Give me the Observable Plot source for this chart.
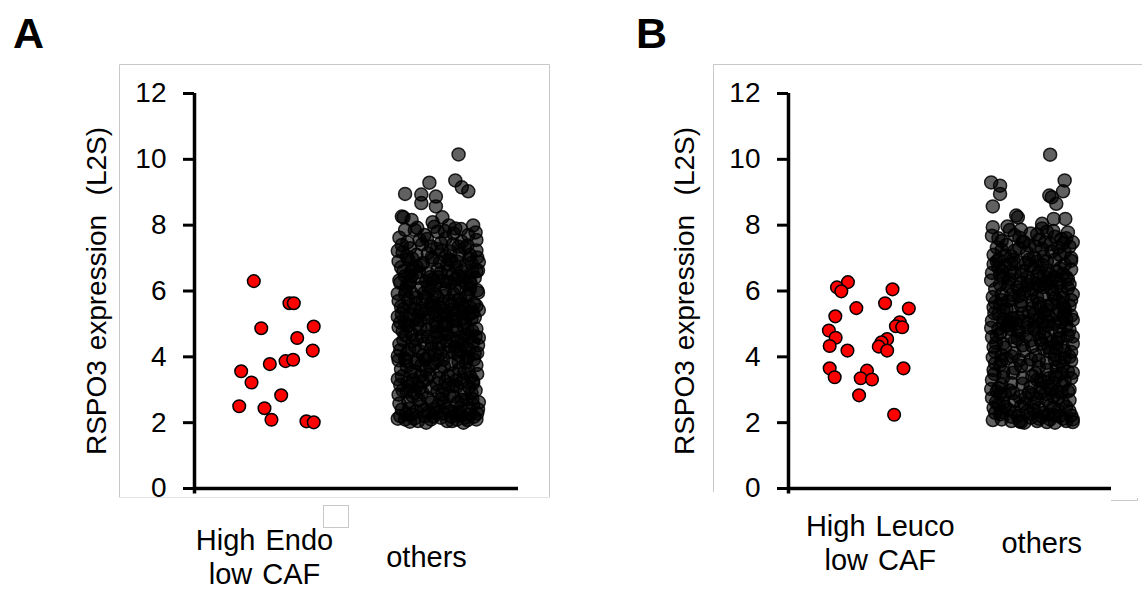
<!DOCTYPE html>
<html>
<head>
<meta charset="utf-8">
<script src="https://cdn.jsdelivr.net/npm/d3@7"></script>
<script src="https://cdn.jsdelivr.net/npm/@observablehq/plot@0.6"></script>
<style>
  html, body { margin: 0; padding: 0; background: #fff; }
  #wrap { position: relative; width: 1142px; height: 589px; overflow: hidden; font-family: "Liberation Sans", Arial, sans-serif; }
  #wrap > div.panel { position: absolute; top: 0; }
  #overlay { position: absolute; left: 0; top: 0; pointer-events: none; }
</style>
</head>
<body>
<div id="wrap">
  <div class="panel" id="pA" style="left:0px"></div>
  <div class="panel" id="pB" style="left:571px"></div>
  <svg id="overlay" width="1142" height="589" xmlns="http://www.w3.org/2000/svg">
    <g fill="none" stroke="#c8c8c8" stroke-width="1">
      <line x1="119.5" y1="64.5" x2="549.5" y2="64.5"/>
      <line x1="119.5" y1="64.5" x2="119.5" y2="497.5"/>
      <line x1="549.5" y1="64.5" x2="549.5" y2="497.5"/>
      <line x1="119.5" y1="497.5" x2="549.5" y2="497.5" stroke="#e4e4e4"/>
      <rect x="323.5" y="505.5" width="25" height="22" stroke="#c8c8c8"/>
      <line x1="713.5" y1="64.5" x2="1142" y2="64.5"/>
      <line x1="713.5" y1="64.5" x2="713.5" y2="492"/>
      <line x1="1111" y1="500.5" x2="1137.5" y2="500.5"/>
      <line x1="1137.5" y1="498" x2="1137.5" y2="500.5"/>
    </g>
    <text x="13" y="48" font-family="Liberation Sans, Arial, sans-serif" font-weight="bold" font-size="43" fill="#000">A</text>
    <text x="636" y="48" font-family="Liberation Sans, Arial, sans-serif" font-weight="bold" font-size="43" fill="#000">B</text>
  </svg>
</div>
<script>
// ---------- data ----------
const groupsA = ["High Endo\nlow CAF", "others"];
const groupsB = ["High Leuco\nlow CAF", "others"];
const yTicks = [0, 2, 4, 6, 8, 10, 12];
const yTitle = "RSPO3 expression\u00a0 (L2S)";

// [jitter offset within category, RSPO3 value]
const redA = [
  [-0.134, 6.30], [0.086, 5.63], [0.113, 5.63], [-0.088, 4.87], [0.236, 4.92],
  [0.134, 4.57], [0.230, 4.19], [0.062, 3.87], [0.109, 3.91], [-0.035, 3.78],
  [-0.212, 3.56], [-0.148, 3.22], [0.035, 2.83], [-0.224, 2.50], [-0.068, 2.44],
  [-0.025, 2.09], [0.191, 2.04], [0.236, 2.01]
];

const othersA = [
  [0.13,10.15],[0.11,9.36],[0.15,9.15],[0.19,9.03],[-0.05,9.29],[-0.20,8.95],[-0.10,8.93],[-0.10,8.67],
  [-0.01,8.87],[-0.01,8.57],[-0.22,8.26],[-0.21,8.24],[-0.16,8.16],[0.03,8.24],[0.07,7.99],[-0.03,8.09],
  [0.22,7.99],[-0.20,7.86],[0.24,7.55],[0.24,7.23],[0.25,6.62],
  [-0.14,7.85],[-0.08,7.7],[0.0,7.8],[0.05,7.6],[0.1,7.75],[0.15,7.5],[0.19,7.7],[-0.22,7.4],[-0.17,7.3],
  [-0.11,7.55],[-0.04,7.35],[0.02,7.45],[0.08,7.2],[0.13,7.35],[0.2,7.1],[-0.19,7.05],[-0.06,7.15],
  [0.05,7.05],[0.17,7.3],[-0.13,7.1],[0.11,7.9],[-0.02,7.95],
  [-0.24,6.9],[-0.21,6.6],[-0.18,6.95],[-0.15,6.7],[-0.12,6.4],[-0.09,6.85],[-0.06,6.55],[-0.03,6.95],
  [0.0,6.65],[0.03,6.3],[0.06,6.8],[0.09,6.5],[0.12,6.9],[0.15,6.6],[0.18,6.2],[0.21,6.85],[0.23,6.4],
  [-0.23,6.25],[-0.19,6.15],[-0.16,6.45],[-0.1,6.1],[-0.07,6.3],[-0.01,6.2],[0.02,6.55],[0.05,6.05],
  [0.08,6.25],[0.11,6.35],[0.14,6.1],[0.17,6.75],[0.2,6.05],[0.24,6.6],[-0.13,6.75],[-0.04,6.05],
  [0.07,6.95],[-0.2,6.45],
  [-0.24,5.7],[-0.22,5.3],[-0.2,5.9],[-0.17,5.5],[-0.15,5.1],[-0.13,5.8],[-0.1,5.4],[-0.08,5.95],
  [-0.06,5.2],[-0.03,5.65],[-0.01,5.05],[0.01,5.5],[0.04,5.85],[0.06,5.25],[0.09,5.6],[0.11,5.1],
  [0.14,5.75],[0.16,5.35],[0.19,5.9],[0.21,5.15],[0.24,5.55],[0.25,5.95],[-0.23,5.05],[-0.18,5.75],
  [-0.12,5.25],[-0.09,5.7],[-0.05,5.45],[0.0,5.8],[0.03,5.3],[0.07,5.7],[0.1,5.9],[0.13,5.4],
  [0.17,5.05],[0.2,5.5],[0.23,5.2],[-0.16,5.95],[-0.02,5.35],[0.05,5.0],[0.15,5.6],[-0.21,5.45],
  [-0.24,4.9],[-0.21,4.5],[-0.19,4.1],[-0.16,4.7],[-0.14,4.3],[-0.11,4.85],[-0.09,4.05],[-0.06,4.6],
  [-0.04,4.25],[-0.01,4.75],[0.01,4.4],[0.04,4.95],[0.07,4.15],[0.09,4.55],[0.12,4.8],[0.14,4.2],
  [0.17,4.65],[0.19,4.0],[0.22,4.45],[0.24,4.85],[0.25,4.35],[-0.23,4.2],[-0.18,4.95],[-0.13,4.55],
  [-0.08,4.4],[-0.03,4.95],[0.02,4.1],[0.06,4.7],[0.11,4.3],[0.16,4.95],[0.2,4.6],[0.23,4.1],
  [-0.2,4.65],[0.0,4.6],[0.13,4.05],
  [-0.24,3.9],[-0.22,3.4],[-0.19,3.7],[-0.17,3.1],[-0.14,3.55],[-0.12,3.9],[-0.09,3.25],[-0.07,3.6],
  [-0.04,3.05],[-0.02,3.8],[0.01,3.35],[0.04,3.7],[0.07,3.15],[0.1,3.5],[0.13,3.85],[0.16,3.3],
  [0.19,3.6],[0.22,3.2],[0.24,3.75],[-0.23,3.15],[-0.2,3.95],[-0.15,3.3],[-0.1,3.75],[-0.05,3.45],
  [0.0,3.9],[0.05,3.25],[0.12,3.1],[0.18,3.95],[0.22,3.26],[-0.11,3.05],
  [-0.24,2.85],[-0.22,2.4],[-0.2,2.1],[-0.18,2.65],[-0.16,2.25],[-0.14,2.9],[-0.12,2.05],[-0.1,2.5],
  [-0.08,2.2],[-0.06,2.75],[-0.04,2.1],[-0.02,2.4],[0.0,2.95],[0.02,2.15],[0.04,2.6],[0.06,2.05],
  [0.08,2.35],[0.1,2.8],[0.12,2.1],[0.14,2.45],[0.16,2.0],[0.18,2.7],[0.2,2.25],[0.22,2.55],
  [0.24,2.1],[0.25,2.4],[-0.23,2.2],[-0.19,2.95],[-0.13,2.35],[-0.07,2.0],[0.03,2.85],[0.09,2.05],
  [0.15,2.7],[0.21,2.9],[-0.01,2.3],[0.17,2.15],[-0.17,2.03],
  [-0.235,7.62],[-0.185,7.48],[-0.125,7.92],[-0.065,7.58],[-0.005,7.28],[0.045,7.82],[0.095,7.42],[0.145,7.88],[0.185,7.38],[0.235,7.78],
  [-0.215,7.18],[-0.155,6.98],[-0.095,7.42],[-0.035,7.02],[0.025,7.22],[0.085,6.92],[0.135,7.12],[0.195,6.98],[0.245,7.02],[-0.245,7.22],
  [-0.225,6.72],[-0.165,6.58],[-0.105,6.78],[-0.045,6.42],[0.015,6.88],[0.065,6.62],[0.115,6.72],[0.165,6.42],[0.215,6.58],[0.255,6.88],
  [-0.235,6.32],[-0.175,6.22],[-0.115,6.58],[-0.055,6.12],[0.005,6.42],[0.055,6.28],[0.105,6.08],[0.155,6.32],[0.205,6.22],[0.245,6.02],
  [-0.245,5.92],[-0.195,6.02],[-0.135,5.62],[-0.075,5.82],[-0.015,5.92],[0.035,5.62],[0.085,5.42],[0.125,5.72],[0.175,5.82],[0.225,5.62],
  [-0.225,5.52],[-0.165,5.28],[-0.105,5.12],[-0.045,5.58],[0.015,5.22],[0.065,5.02],[0.105,5.32],[0.155,5.18],[0.195,5.28],[0.255,5.42],
  [-0.245,5.22],[-0.185,4.92],[-0.125,4.98],[-0.065,4.82],[-0.005,4.92],[0.045,4.68],[0.095,4.92],[0.145,4.58],[0.185,4.82],[0.235,4.62],
  [-0.215,4.78],[-0.155,4.48],[-0.095,4.62],[-0.035,4.42],[0.025,4.72],[0.075,4.32],[0.125,4.48],[0.175,4.28],[0.215,4.78],[0.255,4.58],
  [-0.235,4.38],[-0.175,4.22],[-0.115,4.18],[-0.055,4.02],[0.005,4.28],[0.055,4.48],[0.105,4.12],[0.155,4.38],[0.195,4.22],[0.245,4.12],
  [-0.245,4.02],[-0.195,3.88],[-0.135,3.82],[-0.075,3.92],[-0.015,4.08],[0.035,3.92],[0.085,3.78],[0.135,3.62],[0.175,3.82],[0.225,3.92],
  [-0.225,3.62],[-0.165,3.52],[-0.105,3.42],[-0.045,3.72],[0.015,3.58],[0.065,3.42],[0.115,3.28],[0.165,3.52],[0.205,3.38],[0.245,3.48],
  [-0.245,3.32],[-0.185,3.22],[-0.125,3.12],[-0.065,3.32],[-0.005,3.18],[0.045,3.02],[0.095,3.12],[0.145,3.22],[0.195,3.08],[0.235,2.98],
  [-0.215,2.98],[-0.155,2.82],[-0.095,2.92],[-0.035,2.62],[0.025,2.72],[0.075,2.82],[0.125,2.62],[0.165,2.88],[0.215,2.72],[0.255,2.62],
  [-0.235,2.58],[-0.175,2.42],[-0.115,2.68],[-0.055,2.32],[0.005,2.52],[0.055,2.42],[0.105,2.32],[0.145,2.22],[0.195,2.42],[0.245,2.28],
  [-0.245,2.12],[-0.195,2.25],[-0.145,2.12],[-0.085,2.38],[-0.025,2.18],[0.035,2.28],[0.085,2.18],[0.135,2.32],[0.185,2.08],[0.225,2.18],
  [-0.2,5.05],[-0.14,5.45],[-0.08,5.3],[-0.02,5.55],[0.04,5.4],[0.1,5.15],[0.16,5.5],[0.22,5.35],[-0.17,6.3],[-0.03,6.35],[0.13,6.45],[0.2,6.3]
];

const redB = [
  [-0.132, 6.27], [-0.200, 6.11], [-0.173, 5.99], [0.144, 6.05], [0.098, 5.63],
  [-0.080, 5.48], [0.245, 5.47], [-0.210, 5.23], [0.189, 5.05], [0.165, 4.93],
  [0.204, 4.90], [-0.250, 4.80], [-0.208, 4.58], [0.111, 4.54], [0.076, 4.44],
  [0.059, 4.31], [0.111, 4.19], [-0.245, 4.33], [-0.135, 4.19], [-0.245, 3.65],
  [0.212, 3.65], [-0.214, 3.38], [-0.014, 3.58], [-0.053, 3.35], [0.017, 3.31],
  [-0.063, 2.83], [0.154, 2.24]
];

const othersB = [
  [0.12,10.14],[-0.245,9.30],[-0.19,9.20],[-0.19,8.95],[0.21,9.36],[0.20,9.03],[0.115,8.9],[0.158,8.65],
  [0.13,8.85],[-0.235,8.57],[-0.235,7.94],[-0.144,7.96],[-0.09,8.29],[-0.08,8.24],[-0.061,7.86],
  [0.142,8.19],[0.214,8.19],[0.07,8.04],
  [-0.2,7.6],[-0.15,7.4],[-0.1,7.7],[-0.05,7.5],[0.0,7.75],[0.05,7.55],[0.1,7.8],[0.15,7.65],[0.2,7.45],
  [0.24,7.35],[-0.23,7.1],[-0.18,7.25],[-0.12,7.05],[-0.07,7.3],[-0.02,7.15],[0.03,7.35],[0.08,7.05],
  [0.13,7.2],[0.18,7.1],[0.22,7.6],[0.25,7.0],[0.07,7.9],
  [-0.24,6.55],[-0.21,6.9],[-0.19,6.2],[-0.16,6.75],[-0.13,6.35],[-0.11,6.95],[-0.08,6.1],[-0.05,6.6],
  [-0.03,6.85],[0.0,6.3],[0.02,6.7],[0.05,6.15],[0.08,6.45],[0.1,6.9],[0.13,6.05],[0.16,6.6],[0.18,6.25],
  [0.21,6.8],[0.23,6.35],[0.25,6.65],[-0.22,6.05],[-0.17,6.4],[-0.1,6.55],[-0.06,6.25],[-0.01,6.95],
  [0.04,6.45],[0.07,6.8],[0.12,6.5],[0.15,6.95],[0.19,6.0],[0.24,6.2],[-0.14,6.15],[0.01,6.05],[0.09,6.2],
  [-0.2,6.7],
  [-0.24,5.1],[-0.22,5.65],[-0.2,5.3],[-0.18,5.9],[-0.15,5.45],[-0.13,5.05],[-0.11,5.75],[-0.08,5.2],
  [-0.06,5.55],[-0.04,5.95],[-0.01,5.35],[0.01,5.7],[0.03,5.1],[0.06,5.5],[0.08,5.85],[0.11,5.25],
  [0.13,5.6],[0.15,5.0],[0.18,5.4],[0.2,5.8],[0.22,5.15],[0.24,5.55],[0.26,5.9],[-0.23,5.5],[-0.17,5.15],
  [-0.12,5.4],[-0.07,5.85],[-0.02,5.05],[0.02,5.3],[0.07,5.05],[0.1,5.55],[0.14,5.9],[0.17,5.7],
  [0.21,5.35],[0.25,5.25],[-0.19,5.6],[-0.09,5.0],[0.04,5.8],[0.19,5.05],[-0.14,5.7],
  [-0.24,4.6],[-0.22,4.15],[-0.2,4.85],[-0.17,4.4],[-0.15,4.95],[-0.12,4.6],[-0.1,4.1],[-0.07,4.75],
  [-0.05,4.35],[-0.02,4.9],[0.0,4.5],[0.03,4.05],[0.05,4.7],[0.08,4.25],[0.1,4.95],[0.13,4.45],
  [0.15,4.05],[0.18,4.8],[0.2,4.3],[0.23,4.65],[0.25,4.15],[-0.23,4.3],[-0.18,4.05],[-0.13,4.85],
  [0.02,4.85],[0.07,4.4],[0.12,4.15],[0.17,4.55],[0.22,4.95],[-0.21,4.65],[0.26,4.4],[-0.08,4.55],
  [0.09,4.6],[0.16,4.25],[0.24,4.0],
  [-0.24,3.3],[-0.22,3.8],[-0.2,3.05],[-0.17,3.55],[-0.15,3.95],[-0.12,3.2],[-0.1,3.65],[-0.07,3.9],
  [-0.05,3.35],[-0.02,3.75],[0.0,3.1],[0.03,3.5],[0.05,3.9],[0.08,3.25],[0.1,3.6],[0.13,3.0],
  [0.15,3.45],[0.18,3.85],[0.2,3.15],[0.23,3.55],[0.25,3.35],[-0.23,3.6],[-0.18,3.15],[0.06,3.05],
  [0.11,3.35],[0.16,3.7],[0.21,3.95],[0.24,3.0],[-0.19,3.75],[0.04,3.3],[0.14,3.2],[0.19,3.5],
  [-0.24,2.75],[-0.22,2.3],[-0.2,2.55],[-0.18,2.1],[-0.16,2.85],[-0.14,2.4],[-0.12,2.05],[-0.1,2.65],
  [-0.08,2.2],[-0.06,2.5],[-0.04,2.0],[-0.02,2.35],[0.0,2.15],[0.02,2.6],[0.04,2.05],[0.06,2.9],
  [0.08,2.3],[0.1,2.7],[0.12,2.1],[0.14,2.45],[0.16,2.95],[0.18,2.2],[0.2,2.6],[0.22,2.05],
  [0.24,2.35],[0.26,2.1],[-0.23,2.45],[-0.21,2.95],[-0.17,2.6],[-0.11,2.9],[-0.03,2.75],[0.05,2.45],
  [0.11,2.25],[0.17,2.75],[0.23,2.95],[-0.07,2.05],[0.15,2.0],[-0.19,2.25],[0.01,2.85],
  [-0.24,7.68],[-0.18,7.52],[-0.13,7.85],[-0.07,7.62],[-0.01,7.38],[0.04,7.72],[0.09,7.48],[0.14,7.82],[0.19,7.58],[0.23,7.78],
  [-0.21,7.32],[-0.16,7.08],[-0.1,7.22],[-0.04,7.48],[0.02,7.02],[0.07,7.28],[0.12,7.42],[0.17,7.32],[0.21,7.18],[0.26,7.48],
  [-0.23,6.82],[-0.18,6.62],[-0.12,6.82],[-0.06,6.48],[0.0,6.78],[0.05,6.58],[0.1,6.62],[0.15,6.42],[0.2,6.52],[0.25,6.92],
  [-0.245,6.32],[-0.19,6.48],[-0.13,6.58],[-0.07,6.02],[-0.02,6.42],[0.03,6.22],[0.08,6.12],[0.13,6.32],[0.18,6.68],[0.23,6.08],
  [-0.235,5.82],[-0.18,5.72],[-0.12,5.88],[-0.06,5.68],[0.0,5.92],[0.05,5.62],[0.1,5.42],[0.15,5.78],[0.2,5.58],[0.25,5.72],
  [-0.225,5.32],[-0.17,5.42],[-0.11,5.18],[-0.05,5.32],[0.01,5.48],[0.06,5.18],[0.11,5.08],[0.16,5.28],[0.21,5.48],[0.26,5.12],
  [-0.245,4.88],[-0.19,4.72],[-0.14,4.98],[-0.08,4.78],[-0.03,4.62],[0.03,4.92],[0.08,4.72],[0.13,4.88],[0.18,4.58],[0.24,4.82],
  [-0.215,4.42],[-0.16,4.28],[-0.1,4.48],[-0.04,4.18],[0.01,4.32],[0.06,4.52],[0.11,4.28],[0.16,4.42],[0.21,4.18],[0.26,4.62],
  [-0.235,3.98],[-0.18,3.88],[-0.12,4.02],[-0.06,3.72],[0.0,3.92],[0.05,3.68],[0.1,3.82],[0.15,3.92],[0.2,3.72],[0.25,3.88],
  [-0.225,3.48],[-0.17,3.38],[-0.11,3.52],[-0.05,3.18],[0.01,3.42],[0.06,3.28],[0.11,3.12],[0.16,3.38],[0.21,3.28],[0.26,3.52],
  [-0.245,3.02],[-0.19,2.88],[-0.13,2.98],[-0.07,2.78],[-0.01,2.92],[0.04,2.72],[0.09,2.88],[0.14,2.78],[0.19,2.92],[0.24,2.68],
  [-0.215,2.62],[-0.16,2.48],[-0.1,2.32],[-0.04,2.58],[0.02,2.38],[0.07,2.18],[0.12,2.52],[0.17,2.38],[0.22,2.48],[0.25,2.22],
  [-0.235,2.08],[-0.18,2.32],[-0.12,2.18],[-0.06,2.02],[0.0,2.28],[0.05,2.12],[0.1,2.02],[0.15,2.22],[0.2,2.12],[0.26,2.02],
  [-0.2,6.95],[-0.14,6.28],[-0.08,6.88],[-0.02,6.18],[0.04,6.9],[0.1,6.28],[0.16,6.12],[0.22,6.42],[-0.17,5.02],[-0.05,5.08],[0.08,5.32],[0.2,5.22]
];

// ---------- drawing ----------
const FONT = "'Liberation Sans', Arial, sans-serif";

function panel({groups, red, others, marginLeft, marginRight, labelDx, labelDy, titleDx}) {
  return Plot.plot({
    width: 571,
    height: 589,
    marginLeft,
    marginRight,
    marginTop: 93,
    marginBottom: 101,
    x: {domain: [-0.5, 1.5], axis: null},
    y: {domain: [0, 12]},
    style: {fontFamily: FONT, fontSize: "28px", wordSpacing: "2px", background: "transparent", overflow: "visible", color: "#000"},
    marks: [
      Plot.axisY({ticks: yTicks, tickSize: 11, tickPadding: 17, fontSize: 28, strokeWidth: 3, label: null, fill: "#000"}),
      Plot.ruleX([-0.5], {y1: () => -0.17, y2: () => 12, strokeWidth: 3.5, stroke: "#000"}),
      Plot.ruleY([0], {x1: () => -0.5, x2: () => 1.5, strokeWidth: 3.5, stroke: "#000"}),
      Plot.dot(others, {x: d => 1 + d[0], y: d => d[1], r: 6.5, fill: "#000", fillOpacity: 0.62,
        stroke: "#000", strokeOpacity: 0.85, strokeWidth: 1.5}),
      Plot.dot(red, {x: d => d[0], y: d => d[1], r: 6.3, fill: "#ff0000", stroke: "#000", strokeWidth: 1.5}),
      Plot.text(groups, {x: (d, i) => i, text: d => d, frameAnchor: "bottom", dx: labelDx, dy: labelDy,
        textAnchor: "middle", lineAnchor: "middle", lineHeight: 1.17, fontSize: 29, fill: "#000"}),
      Plot.text([yTitle], {frameAnchor: "left", dx: titleDx, rotate: -90, textAnchor: "middle",
        lineAnchor: "middle", fontSize: 28, fill: "#000"})
    ]
  });
}

document.getElementById("pA").append(panel({
  groups: groupsA, red: redA, others: othersA,
  marginLeft: 194, marginRight: 571 - 518, labelDx: -11, labelDy: 68, titleDx: -97
}));
document.getElementById("pB").append(panel({
  groups: groupsB, red: redB, others: othersB,
  marginLeft: 788 - 571, marginRight: 1142 - 1111, labelDx: 11, labelDy: 54, titleDx: -103
}));
</script>
</body>
</html>
